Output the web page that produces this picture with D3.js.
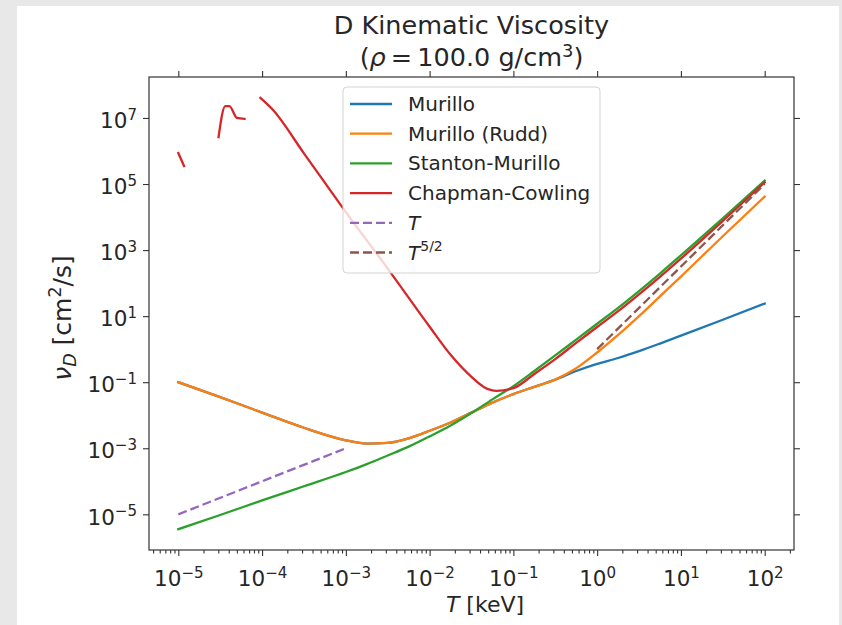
<!DOCTYPE html>
<html><head><meta charset="utf-8">
<script src="https://cdn.jsdelivr.net/npm/d3@7/dist/d3.min.js"></script>
<style>
html,body{margin:0;padding:0;background:#e8e8e8;}
svg{display:block;font-family:"DejaVu Sans",sans-serif;}
</style></head>
<body><svg id="c" width="842" height="625"></svg>
<script>
// ---------------- data ----------------
const tGrid = [1e-5, 3.16e-5, 1e-4, 3.16e-4, 1e-3, 1.78e-3, 3.16e-3, 5.62e-3, 1e-2, 1.78e-2, 3.16e-2, 5.62e-2,
               1e-1, 1.78e-1, 3.16e-1, 5.62e-1, 1, 1.78, 3.16, 5.62, 10, 31.6, 100];
const vMurilloRudd = [1.0e-1, 3.55e-2, 1.20e-2, 4.17e-3, 1.74e-3, 1.38e-3, 1.45e-3, 2.0e-3, 3.39e-3, 6.03e-3, 1.20e-2, 2.40e-2,
                      4.37e-2, 7.24e-2, 1.20e-1, 2.63e-1, 7.94e-1, 2.69, 10, 39.8, 158, 2630, 41700];
const vMurillo     = [1.0e-1, 3.55e-2, 1.20e-2, 4.17e-3, 1.74e-3, 1.38e-3, 1.45e-3, 2.0e-3, 3.39e-3, 6.03e-3, 1.20e-2, 2.40e-2,
                      4.37e-2, 7.24e-2, 1.20e-1, 2.19e-1, 3.60e-1, 5.40e-1, 8.71e-1, 1.48, 2.57, 7.76, 24.0];
const vStanton     = [3.55e-6, 9.55e-6, 2.63e-5, 7.08e-5, 1.91e-4, 3.31e-4, 6.03e-4, 1.12e-3, 2.29e-3, 4.90e-3, 1.17e-2, 3.02e-2,
                      7.59e-2, 2.19e-1, 6.46e-1, 1.95, 5.89, 17.8, 57.5, 195, 692, 9120, 126000];
// Chapman-Cowling: null marks gaps in the curve
const tChapman = [1.0e-5, 1.17e-5, 1.5e-5, 3.02e-5, 3.63e-5, 4.07e-5, 5.01e-5, 6.17e-5, 8e-5,
                  9.55e-5, 1.32e-4, 3.16e-4, 1e-3, 3.16e-3, 1e-2, 1.78e-2, 3.16e-2, 4.47e-2, 6.31e-2, 1e-1, 1.78e-1,
                  3.16e-1, 5.62e-1, 1, 1.78, 3.16, 5.62, 10, 31.6, 100];
const vChapman = [8.7e5, 3.5e5, null, 2.63e6, 2.29e7, 2.29e7, 1.0e7, 9.33e6, null,
                  4.07e7, 1.86e7, 8.5e5, 1.41e4, 275, 4.79, 6.76e-1, 1.45e-1, 7.08e-2, 5.5e-2, 6.61e-2, 1.78e-1,
                  5.01e-1, 1.55, 4.68, 14.1, 45.7, 155, 550, 7590, 112000];
const tLinear = [1e-5, 1e-3];
const vLinear = [1e-5, 1e-3];
const tFiveHalves = [1, 100];
const vFiveHalves = [1, 1e5];
const xMajorExps = [-5, -4, -3, -2, -1, 0, 1, 2];
const yMajorExps = [-5, -3, -1, 1, 3, 5, 7];
const legendLabels = ["Murillo", "Murillo (Rudd)", "Stanton-Murillo", "Chapman-Cowling", "T", "T5/2"];

// ---------------- layout ----------------
const svg = d3.select("#c");
svg.append("rect").attr("x", 17).attr("y", 6).attr("width", 822).attr("height", 619).attr("fill", "#fff");
const L = 149, R = 794, T = 77, B = 550;
const x = d3.scaleLog().domain([Math.pow(10, -5.35), Math.pow(10, 2.35)]).range([L, R]);
const y = d3.scaleLog().domain([Math.pow(10, -6.08), Math.pow(10, 8.24)]).range([B, T]);
const colors = {blue: "#1f77b4", orange: "#ff7f0e", green: "#2ca02c", red: "#d62728", purple: "#9467bd", brown: "#8c564b"};
const LW = 2.3;

const clip = svg.append("clipPath").attr("id", "clp").append("rect")
  .attr("x", L).attr("y", T).attr("width", R - L).attr("height", B - T);
const plot = svg.append("g").attr("clip-path", "url(#clp)");

function series(ts, vs) { return ts.map((t, i) => ({t: t, v: vs[i]})); }
const line = d3.line().defined(d => d.v != null).x(d => x(d.t)).y(d => y(d.v)).curve(d3.curveMonotoneX);

function draw(ts, vs, color, dash) {
  plot.append("path").datum(series(ts, vs)).attr("d", line)
    .attr("fill", "none").attr("stroke", color).attr("stroke-width", LW)
    .attr("stroke-linecap", dash ? "butt" : "square").attr("stroke-linejoin", "round")
    .attr("stroke-dasharray", dash || null);
}
draw(tGrid, vMurillo, colors.blue);
draw(tGrid, vMurilloRudd, colors.orange);
draw(tGrid, vStanton, colors.green);
draw(tChapman, vChapman, colors.red);
draw(tLinear, vLinear, colors.purple, "9,4");
draw(tFiveHalves, vFiveHalves, colors.brown, "9,4");

// ---------------- axes ----------------
const FS = 21.5;
function supLabel(sel, e) {
  sel.text(null);
  sel.append("tspan").text("10");
  sel.append("tspan").attr("dy", "-0.55em").attr("font-size", "0.7em").text(e < 0 ? "\u2212" + (-e) : String(e));
}
const xMajor = xMajorExps.map(e => Math.pow(10, e));
const xMinor = [];
for (let k = -6; k <= 2; k++) for (let d = 2; d <= 9; d++) {
  const v = d * Math.pow(10, k);
  if (v >= x.domain()[0] && v <= x.domain()[1]) xMinor.push(v);
}
const gxMinor = svg.append("g").attr("transform", `translate(0,${B})`)
  .call(d3.axisBottom(x).tickValues(xMinor).tickSize(3.5).tickFormat(""));
const gx = svg.append("g").attr("transform", `translate(0,${B})`)
  .call(d3.axisBottom(x).tickValues(xMajor).tickSize(6).tickPadding(10));
gx.selectAll("text").attr("font-size", FS).attr("fill", "#262626").attr("font-family", "DejaVu Sans")
  .attr("dy", "0.95em").each(function(d) { supLabel(d3.select(this), Math.round(Math.log10(d))); });
const gxTop = svg.append("g").attr("transform", `translate(0,${T})`)
  .call(d3.axisTop(x).tickValues(xMajor).tickSize(6).tickFormat(""));

const yMajor = yMajorExps.map(e => Math.pow(10, e));
const gy = svg.append("g").attr("transform", `translate(${L},0)`)
  .call(d3.axisLeft(y).tickValues(yMajor).tickSize(6).tickPadding(6));
gy.selectAll("text").attr("font-size", FS).attr("fill", "#262626").attr("font-family", "DejaVu Sans")
  .attr("dy", "0.45em").each(function(d) { supLabel(d3.select(this), Math.round(Math.log10(d))); });
const gyR = svg.append("g").attr("transform", `translate(${R},0)`)
  .call(d3.axisRight(y).tickValues(yMajor).tickSize(6).tickFormat(""));
[gxMinor, gx, gxTop, gy, gyR].forEach(g => {
  g.select(".domain").remove();
  g.selectAll("line").attr("stroke", "#333").attr("stroke-width", 1.1);
});
svg.append("rect").attr("x", L).attr("y", T).attr("width", R - L).attr("height", B - T)
  .attr("fill", "none").attr("stroke", "#333").attr("stroke-width", 1.2);

// axis labels
const xl = svg.append("text").attr("x", 485).attr("y", 612).attr("text-anchor", "middle")
  .attr("font-size", 22).attr("fill", "#262626");
xl.append("tspan").attr("font-style", "italic").text("T");
xl.append("tspan").text(" [keV]");
const yl = svg.append("text").attr("transform", `translate(71,318) rotate(-90)`)
  .attr("text-anchor", "middle").attr("font-size", 25).attr("fill", "#262626");
yl.append("tspan").attr("font-style", "italic").text("\u03bd");
yl.append("tspan").attr("font-style", "italic").attr("font-size", "0.7em").attr("dy", "0.3em").text("D");
yl.append("tspan").attr("dy", "-0.21em").text(" [cm");
yl.append("tspan").attr("font-size", "0.7em").attr("dy", "-0.55em").text("2");
yl.append("tspan").attr("dy", "0.385em").text("/s]");

// title
svg.append("text").attr("x", (L + R) / 2).attr("y", 34).attr("text-anchor", "middle")
  .attr("font-size", 25.5).attr("fill", "#262626").text("D Kinematic Viscosity");
const t2 = svg.append("text").attr("x", (L + R) / 2).attr("y", 66).attr("text-anchor", "middle")
  .attr("font-size", 25.5).attr("fill", "#262626");
t2.append("tspan").text("(");
t2.append("tspan").attr("font-style", "italic").text("\u03c1");
t2.append("tspan").text("\u2009=\u2009100.0 g/cm");
t2.append("tspan").attr("font-size", "0.7em").attr("dy", "-0.5em").text("3");
t2.append("tspan").attr("dy", "0.35em").text(")");

// ---------------- legend ----------------
const lg = svg.append("g");
lg.append("rect").attr("x", 343).attr("y", 87).attr("width", 257).attr("height", 186).attr("rx", 4)
  .attr("fill", "#fff").attr("fill-opacity", 0.8).attr("stroke", "#d3d3d3").attr("stroke-width", 1);
const lgColors = [colors.blue, colors.orange, colors.green, colors.red, colors.purple, colors.brown];
legendLabels.forEach((lab, i) => {
  const yy = 104 + i * 29.7;
  lg.append("line").attr("x1", 350).attr("x2", 392).attr("y1", yy).attr("y2", yy)
    .attr("stroke", lgColors[i]).attr("stroke-width", LW).attr("stroke-dasharray", i >= 4 ? "9,4" : null);
  const tx = lg.append("text").attr("x", 408).attr("y", yy + 7).attr("font-size", 20).attr("fill", "#262626");
  if (i === 4) {
    tx.append("tspan").attr("font-style", "italic").text("T");
  } else if (i === 5) {
    tx.append("tspan").attr("font-style", "italic").text("T");
    tx.append("tspan").attr("font-size", "0.7em").attr("dy", "-0.6em").text("5/2");
  } else tx.text(lab);
});
</script></body></html>
